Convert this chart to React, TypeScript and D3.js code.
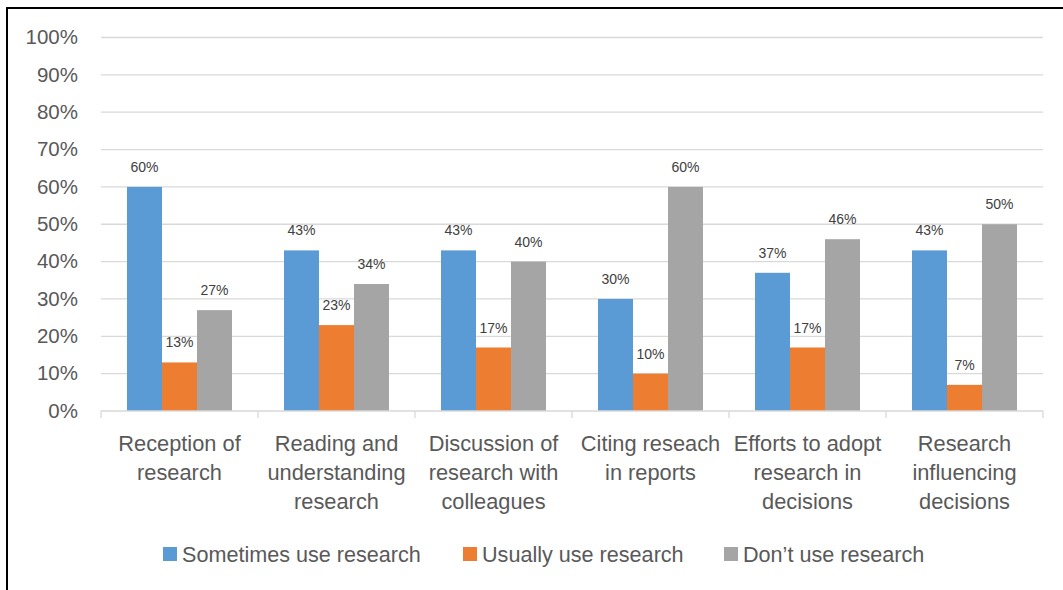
import React from "react";
import * as d3 from "d3";

const categories: string[][] = [
  ["Reception of", "research"],
  ["Reading and", "understanding", "research"],
  ["Discussion of", "research with", "colleagues"],
  ["Citing reseach", "in reports"],
  ["Efforts to adopt", "research in", "decisions"],
  ["Research", "influencing", "decisions"],
];
const seriesNames = ["Sometimes use research", "Usually use research", "Don\u2019t use research"];
const sometimes = [60, 43, 43, 30, 37, 43];
const usually = [13, 23, 17, 10, 17, 7];
const dontUse = [27, 34, 40, 60, 46, 50];
const yTicks = [0, 10, 20, 30, 40, 50, 60, 70, 80, 90, 100];
const colors = ["#5B9BD5", "#ED7D31", "#A5A5A5"];

const W = 1063, H = 590;
const FONT = "'Liberation Sans', Arial, sans-serif";

export default function App() {
  const series = [sometimes, usually, dontUse];
  const left = 101, right = 1043, top = 37.5, bottom = 411;
  const x0 = d3.scaleBand<number>().domain(d3.range(categories.length)).range([left, right]).paddingInner(0).paddingOuter(0);
  const barW = 35;
  const outer = (x0.bandwidth() / barW - 3) / 2;
  const x1 = d3.scaleBand<number>().domain([0, 1, 2]).range([0, x0.bandwidth()]).paddingInner(0).paddingOuter(outer);
  const y = d3.scaleLinear().domain([0, 100]).range([bottom, top]);
  const legendX = [163, 463, 724];
  return (
    <svg width={W} height={H} style={{ position: "absolute", left: 0, top: 0 }} fontFamily={FONT}>
      <rect x={0} y={0} width={W} height={H} fill="#fff" />
      <line x1={7} y1={8} x2={W} y2={8} stroke="#000" strokeWidth={2} />
      <line x1={7} y1={7} x2={7} y2={H} stroke="#000" strokeWidth={2} />
      {yTicks.map((t) => (
        <g key={t}>
          {t > 0 && <line x1={left} x2={right} y1={y(t)} y2={y(t)} stroke="#D9D9D9" strokeWidth={1.3} />}
          <text x={78} y={y(t)} dy="0.33em" textAnchor="end" fontSize={20.5} fill="#595959">{t}%</text>
        </g>
      ))}
      {series.map((vals, si) =>
        vals.map((v, ci) => {
          const bx = (x0(ci) as number) + (x1(si) as number);
          return (
            <g key={`${si}-${ci}`}>
              <rect x={bx} y={y(v)} width={x1.bandwidth()} height={bottom - y(v)} fill={colors[si]} />
              <text x={bx + x1.bandwidth() / 2} y={y(v) - 15} textAnchor="middle" fontSize={14} fill="#404040">{v}%</text>
            </g>
          );
        })
      )}
      <line x1={left} x2={right} y1={bottom} y2={bottom} stroke="#D9D9D9" strokeWidth={1.3} />
      {d3.range(categories.length + 1).map((i) => {
        const xx = left + i * x0.bandwidth();
        return <line key={i} x1={xx} x2={xx} y1={bottom} y2={bottom + 7} stroke="#D9D9D9" strokeWidth={1.3} />;
      })}
      {categories.map((lines, ci) => (
        <text key={ci} textAnchor="middle" fontSize={21.8} fill="#595959">
          {lines.map((l, li) => (
            <tspan key={li} x={(x0(ci) as number) + x0.bandwidth() / 2} y={450.5 + li * 29}>{l}</tspan>
          ))}
        </text>
      ))}
      {seriesNames.map((n, i) => (
        <g key={n}>
          <rect x={legendX[i]} y={547} width={14} height={14} fill={colors[i]} />
          <text x={legendX[i] + 19} y={562} fontSize={21.6} fill="#595959">{n}</text>
        </g>
      ))}
    </svg>
  );
}
